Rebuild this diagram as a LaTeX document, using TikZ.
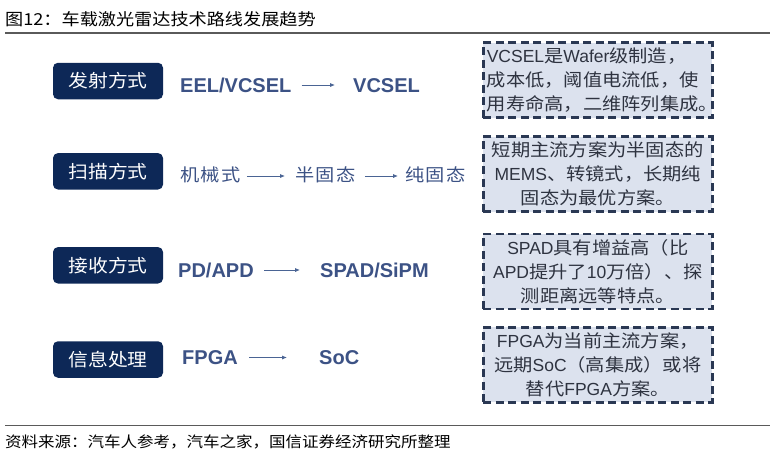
\documentclass[tikz,border=0pt]{standalone}
\usepackage{fontspec}
\setmainfont[FakeStretch=1.1]{Noto Sans CJK SC}
\newfontfamily\cjk[FakeStretch=1.1]{Noto Sans CJK SC}
\newfontfamily\lat{Liberation Sans}
\usetikzlibrary{arrows.meta,positioning}

\definecolor{navy}{HTML}{0D2857}
\definecolor{flowblue}{HTML}{3C5285}
\definecolor{arrowblue}{HTML}{4A6494}
\definecolor{dashnavy}{HTML}{2A3853}
\definecolor{notefill}{HTML}{DCE2EE}
\definecolor{notetext}{HTML}{2E3340}
\definecolor{rulegray}{HTML}{5A5A5A}

\newcommand\en[1]{{\lat #1}}
\newcommand\gp{\hspace{1.4pt}}

\begin{document}
\begin{tikzpicture}[
  x=1pt,y=-1pt,
  >=Latex,
  rule/.style={draw=rulegray,line width=1.5pt},
  catbox/.style={rectangle,rounded corners=5pt,fill=navy,text=white,minimum width=110pt,minimum height=36.5pt,inner sep=0pt,font=\cjk\fontsize{18}{20}\selectfont},
  flowlat/.style={anchor=west,inner sep=0pt,text=flowblue,text height=14.4pt,text depth=0pt,font=\lat\bfseries\fontsize{20}{24}\selectfont},
  flowcjk/.style={anchor=west,inner sep=0pt,text=flowblue,text height=13pt,text depth=2pt,font=\cjk\fontsize{17.5}{20}\selectfont},
  flowarr/.style={-{Latex[length=5pt,width=4.2pt]},draw=arrowblue,line width=0.9pt},
  note/.style={rectangle,draw=dashnavy,line width=2.6pt,dash pattern=on 8pt off 4.5pt,fill=notefill,minimum width=229pt,minimum height=75pt,inner sep=0pt,text width=222pt,align=center,text=notetext,font=\cjk\fontsize{17.5}{24}\selectfont}
]
\useasboundingbox (0,0) rectangle (779,463);

% ---------------- rows ----------------
\def\xCat{108}
\def\xNote{597.8}
\def\yA{81}
\def\yB{171.3}
\def\yC{265.3}
\def\yD{359.5}

% ---------------- title and source ----------------
\node[anchor=base west,inner sep=0pt,font=\cjk\fontsize{16.5}{20}\selectfont] (title) at (5,25.5) {图12：车载激光雷达技术路线发展趋势};
\draw[rule] (5,33) -- (770,33);
\draw[rule] (5,425.7) -- (770,425.7);
\node[anchor=base west,inner sep=0pt,font=\cjk\fontsize{15}{18}\selectfont] (source) at (5,447) {资料来源：汽车人参考，汽车之家，国信证券经济研究所整理};

% ---------------- category boxes ----------------
\node[catbox] (emit) at (\xCat,\yA) {发射方式};
\node[catbox] (scan) at (\xCat,\yB) {扫描方式};
\node[catbox] (recv) at (\xCat,\yC) {接收方式};
\node[catbox] (proc) at (\xCat,\yD) {信息处理};

% ---------------- technology paths ----------------
\node[flowlat] (emitold) at (180,85) {EEL/VCSEL};
\node[flowlat] (emitnew) at (353,85) {VCSEL};
\draw[flowarr,shorten <=10pt,shorten >=18pt] (emitold) -- (emitnew);

\node[flowcjk] (scanmech) at (180,176) {机\gp 械\gp 式};
\node[flowcjk] (scansemi) at (295,176) {半\gp 固\gp 态};
\node[flowcjk] (scansolid) at (405,176) {纯\gp 固\gp 态};
\draw[flowarr,shorten <=6pt,shorten >=10pt] (scanmech) -- (scansemi);
\draw[flowarr,shorten <=9pt,shorten >=7pt] (scansemi) -- (scansolid);

\node[flowlat] (recvold) at (178,270) {PD/APD};
\node[flowlat] (recvnew) at (320,270) {SPAD/SiPM};
\draw[flowarr,shorten <=10.5pt,shorten >=20pt] (recvold) -- (recvnew);

\node[flowlat] (procold) at (182,357.5) {FPGA};
\node[flowlat] (procnew) at (319,357.5) {SoC};
\draw[flowarr,shorten <=11.5pt,shorten >=32pt] (procold) -- (procnew);

% ---------------- notes ----------------
\node[note,align=left] (emitnote) at (\xNote,80) {\en{VCSEL}是\en{Wafer}级制造，\\成本低，阈值电流低，使\\用寿命高，二维阵列集成。};
\node[note] (scannote) at (\xNote,174.2) {短期主流方案为半固态的\\\en{MEMS}、转镜式，长期纯\\固态为最优方案。};
\node[note] (recvnote) at (\xNote,271.3) {\en{SPAD}具有增益高（比\\\en{APD}提升了\en{10}万倍）、探\\测距离远等特点。};
\node[note] (procnote) at (\xNote,364.7) {\en{FPGA}为当前主流方案，\\远期\en{SoC}（高集成）或将\\替代\en{FPGA}方案。};

\end{tikzpicture}
\end{document}
